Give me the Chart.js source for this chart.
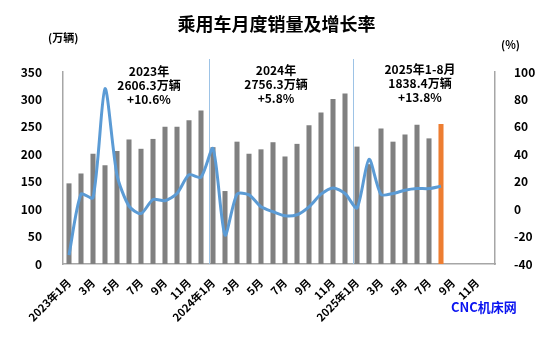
<!DOCTYPE html>
<html>
<head>
<meta charset="utf-8">
<script src="https://cdn.jsdelivr.net/npm/chart.js@4"></script>
<style>
  html, body { margin: 0; padding: 0; background: #fff; }
  #wrap { position: relative; width: 553px; height: 339px; overflow: hidden;
          font-family: "Noto Sans CJK SC", "Noto Sans", sans-serif; }
  canvas { position: absolute; left: 0; top: 0; }
  .txt { position: absolute; font-weight: bold; color: #000; white-space: nowrap; }
  .title { left: 0; width: 553px; top: 11px; text-align: center; font-size: 18px; line-height: 24px; }
  .unit { font-size: 11px; line-height: 14px; }
  .note { font-size: 12px; line-height: 14px; text-align: center; transform: translateX(-50%); }
  .brand { color: #0a14f0; font-size: 13px; }
</style>
</head>
<body>
<div id="wrap">
  <canvas id="c" width="553" height="339"></canvas>
  <div class="txt title">乘用车月度销量及增长率</div>
  <div class="txt unit" style="left:48px; top:30px;">(万辆)</div>
  <div class="txt unit" style="left:501px; top:37px;">(%)</div>
  <div class="txt note" style="left:149px; top:64px;">2023年<br>2606.3万辆<br>+10.6%</div>
  <div class="txt note" style="left:276px; top:63px;">2024年<br>2756.3万辆<br>+5.8%</div>
  <div class="txt note" style="left:420px; top:62px;">2025年1-8月<br>1838.4万辆<br>+13.8%</div>
  <div class="txt brand" style="left:451px; top:297px;">CNC机床网</div>
</div>
<script>
// Month categories, Jan 2023 – Dec 2025
const months = [
  '2023年1月','2月','3月','4月','5月','6月','7月','8月','9月','10月','11月','12月',
  '2024年1月','2月','3月','4月','5月','6月','7月','8月','9月','10月','11月','12月',
  '2025年1月','2月','3月','4月','5月','6月','7月','8月','9月','10月','11月','12月'
];

// Passenger car monthly sales (10k units)
const sales = [
  147, 165, 201, 180, 206, 227, 210, 228, 250, 250, 262, 280,
  213, 133, 223, 201, 209, 222, 196, 219, 253, 276, 301, 311,
  214, 182, 247, 223, 236, 254, 229, 255
];

// Year-on-year growth (%)
const growth = [
  -33.5, 10.9, 8.3, 87.9, 24.8, 2.2, -3.2, 7.0, 6.1, 11.4, 25.0, 23.3,
  44.2, -18.9, 10.9, 10.4, 1.7, -1.9, -4.9, -4.1, 1.7, 10.9, 15.5, 11.4,
  0.9, 36.4, 10.7, 11.4, 13.8, 15.0, 15.0, 16.7
];

// Axis ticks
const salesTicks = [0, 50, 100, 150, 200, 250, 300, 350];
const growthTicks = [-40, -20, 0, 20, 40, 60, 80, 100];

// Year boundaries (first month of each new year)
const yearStarts = [12, 24];

const FONT = '"Noto Sans CJK SC", "Noto Sans", sans-serif';
const AXIS_COLOR = '#a6a6a6';

const barColors = sales.map((v, i) => i === sales.length - 1 ? '#ed7d31' : '#808080');

// Thin blue lines separating the years
const yearLines = {
  id: 'yearLines',
  beforeDatasetsDraw(chart) {
    const { ctx, chartArea, scales } = chart;
    ctx.save();
    ctx.strokeStyle = '#9dc3e6';
    ctx.lineWidth = 1;
    yearStarts.forEach(idx => {
      const x = Math.round(scales.x.getPixelForValue(idx - 0.33)) + 0.5;
      ctx.beginPath();
      ctx.moveTo(x, 59);
      ctx.lineTo(x, chartArea.bottom);
      ctx.stroke();
    });
    ctx.restore();
  }
};

new Chart(document.getElementById('c'), {
  type: 'bar',
  data: {
    labels: months,
    datasets: [
      {
        type: 'line',
        label: '增长率',
        data: growth,
        yAxisID: 'y1',
        borderColor: '#5b9bd5',
        borderWidth: 3,
        pointRadius: 0,
        tension: 0.25,
        fill: false,
        order: 0
      },
      {
        label: '销量',
        data: sales,
        yAxisID: 'y',
        backgroundColor: barColors,
        barPercentage: 0.42,
        categoryPercentage: 1,
        order: 1
      }
    ]
  },
  options: {
    responsive: false,
    animation: false,
    devicePixelRatio: 1,
    layout: { padding: { top: 72, left: 0, right: 0, bottom: 0 } },
    plugins: { legend: { display: false }, tooltip: { enabled: false } },
    scales: {
      x: {
        grid: { display: false },
        border: { display: true, color: AXIS_COLOR, width: 1.5 },
        ticks: {
          autoSkip: false,
          maxRotation: 45,
          minRotation: 45,
          padding: 4,
          color: '#000',
          font: { family: FONT, size: 11, weight: 'bold' },
          callback: (v, i) => (i % 2 === 0 ? months[i] : '')
        },
        afterFit: s => { s.height = 75; }
      },
      y: {
        position: 'left',
        min: salesTicks[0],
        max: salesTicks[salesTicks.length - 1],
        afterBuildTicks: s => { s.ticks = salesTicks.map(v => ({ value: v })); },
        grid: { display: false },
        border: { display: true, color: AXIS_COLOR, width: 1.5 },
        ticks: {
          padding: 13,
          color: '#000',
          font: { family: FONT, size: 12, weight: 'bold' }
        },
        afterFit: s => { s.width = 63; }
      },
      y1: {
        position: 'right',
        min: growthTicks[0],
        max: growthTicks[growthTicks.length - 1],
        afterBuildTicks: s => { s.ticks = growthTicks.map(v => ({ value: v })); },
        grid: { display: false },
        border: { display: true, color: AXIS_COLOR, width: 1.5 },
        ticks: {
          padding: 11,
          color: '#000',
          font: { family: FONT, size: 12, weight: 'bold' }
        },
        afterFit: s => { s.width = 58; }
      }
    }
  },
  plugins: [yearLines]
});
</script>
</body>
</html>
